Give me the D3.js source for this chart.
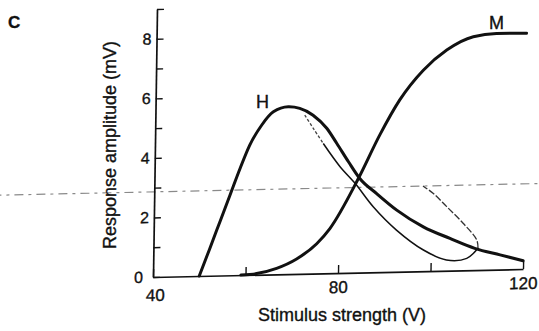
<!DOCTYPE html>
<html>
<head>
<meta charset="utf-8">
<script src="https://cdn.jsdelivr.net/npm/d3@7"></script>
<style>
  body { margin: 0; background: #fff; }
  svg { display: block; font-family: "Liberation Sans", Arial, sans-serif; }
  text { stroke: #111; stroke-width: 0.35px; }
</style>
</head>
<body>
<svg id="chart" width="539" height="331"></svg>
<script>
// values: [stimulus (V), amplitude (mV)]
const hPoints = [[50, 0], [52.2, 0.92], [54.3, 1.81], [56.4, 2.7], [58.5, 3.59], [60.5, 4.36],
  [63, 5.02], [65.5, 5.46], [68.7, 5.62], [71.2, 5.56], [74.1, 5.32], [77.1, 4.87], [79.3, 4.36],
  [81.9, 3.73], [84.4, 3.16], [88.1, 2.64], [92.5, 2.07], [98.3, 1.49], [104.1, 1.08],
  [109.5, 0.73], [115, 0.49], [120, 0.28]];
const mPoints = [[59, 0], [62.4, 0.04], [66.7, 0.2], [71, 0.5], [75.3, 1.0], [78.1, 1.5],
  [84.1, 3.16], [88.6, 4.61], [92.8, 5.77], [97.8, 6.75], [102.8, 7.41], [108.5, 7.84],
  [113.5, 7.93], [120, 7.92]];
// thin loop
const loopStart = [[72.3, 5.33], [74.3, 4.85], [76.4, 4.36]];
const loopDown = [[76.4, 4.36], [80.1, 3.57], [83.4, 3.0], [87.4, 2.2], [92.5, 1.4], [98.4, 0.71],
  [103.4, 0.36], [107.8, 0.4], [110.2, 0.73]];
const loopBack = [[110.2, 0.73], [109.9, 1.01], [106.9, 1.58], [103.3, 2.15], [100.3, 2.61], [98.1, 2.86]];
const dashLevel = 2.86;
const dashExtent = [5, 124];

const xTicks = [40, 60, 80, 100, 120];
const xLabels = [40, 80, 120];
const yTicks = [0, 1, 2, 3, 4, 5, 6, 7, 8, 9];
const yLabels = [0, 2, 4, 6, 8];

const width = 370, height = 268;
const svg = d3.select('#chart');

const x = d3.scaleLinear().domain([40, 120]).range([0, width]);
const y = d3.scaleLinear().domain([0, 9]).range([height, 0]);

// the scan is slightly sheared, so the plot frame is too
const g = svg.append('g')
  .attr('transform', 'matrix(1,-0.0216,-0.0149,1,157,9)');

const smooth = d3.line()
  .x(d => x(d[0]))
  .y(d => y(d[1]))
  .curve(d3.curveMonotoneX);

const loopLine = d3.line()
  .x(d => x(d[0]))
  .y(d => y(d[1]))
  .curve(d3.curveCatmullRom.alpha(0.5));

// grey dashed level line across the whole figure
g.append('line')
  .attr('x1', x(dashExtent[0])).attr('x2', x(dashExtent[1]))
  .attr('y1', y(dashLevel)).attr('y2', y(dashLevel))
  .attr('stroke', '#8a8a8a')
  .attr('stroke-width', 1.2)
  .attr('stroke-dasharray', '9,5,3,5');

const yAxis = d3.axisLeft(y)
  .tickValues(yTicks)
  .tickSize(-7)
  .tickSizeOuter(0)
  .tickPadding(5)
  .tickFormat(d => yLabels.includes(d) ? d : '');

const xAxis = d3.axisBottom(x)
  .tickValues(xTicks)
  .tickSize(-8)
  .tickSizeOuter(0)
  .tickPadding(8)
  .tickFormat(d => xLabels.includes(d) ? d : '');

const yAxisG = g.append('g').call(yAxis);
const xAxisG = g.append('g').attr('transform', `translate(0,${height})`).call(xAxis);

[yAxisG, xAxisG].forEach(a => {
  a.select('.domain').attr('stroke', '#111').attr('stroke-width', 1.7);
  a.selectAll('.tick line').attr('stroke', '#111').attr('stroke-width', 1.4);
  a.selectAll('text').attr('fill', '#111').attr('font-family', '"Liberation Sans", Arial, sans-serif');
});
yAxisG.selectAll('text').attr('font-size', 16);
xAxisG.selectAll('text').attr('font-size', 17);
yAxisG.selectAll('.tick').filter(d => d === 0).select('text').attr('dx', -5);
xAxisG.selectAll('.tick').filter(d => d === 40).select('text').attr('dx', 2).attr('dy', '0.95em');

// thin loop
g.append('path').datum(loopStart)
  .attr('d', loopLine).attr('fill', 'none')
  .attr('stroke', '#444').attr('stroke-width', 1.3).attr('stroke-dasharray', '3,2');
g.append('path').datum(loopDown)
  .attr('d', loopLine).attr('fill', 'none')
  .attr('stroke', '#111').attr('stroke-width', 1.5);
g.append('path').datum(loopBack)
  .attr('d', loopLine).attr('fill', 'none')
  .attr('stroke', '#333').attr('stroke-width', 1.3).attr('stroke-dasharray', '7,2');

// H and M curves
g.append('path').datum(hPoints)
  .attr('d', smooth).attr('fill', 'none')
  .attr('stroke', '#111').attr('stroke-width', 3).attr('stroke-linecap', 'round');
g.append('path').datum(mPoints)
  .attr('d', smooth).attr('fill', 'none')
  .attr('stroke', '#111').attr('stroke-width', 3).attr('stroke-linecap', 'round');

// labels
svg.append('text').attr('x', 8).attr('y', 28)
  .attr('font-size', 17).attr('font-weight', 'bold').attr('fill', '#111').text('C');
svg.append('text').attr('x', 256).attr('y', 108)
  .attr('font-size', 18).attr('fill', '#111').text('H');
svg.append('text').attr('x', 489).attr('y', 29)
  .attr('font-size', 18).attr('fill', '#111').text('M');

svg.append('text')
  .attr('x', 342).attr('y', 321)
  .attr('text-anchor', 'middle')
  .attr('font-size', 18).attr('fill', '#111')
  .text('Stimulus strength (V)');

svg.append('text')
  .attr('transform', 'translate(116,145) rotate(-90)')
  .attr('text-anchor', 'middle')
  .attr('font-size', 18).attr('fill', '#111')
  .text('Response amplitude (mV)');
</script>
</body>
</html>
